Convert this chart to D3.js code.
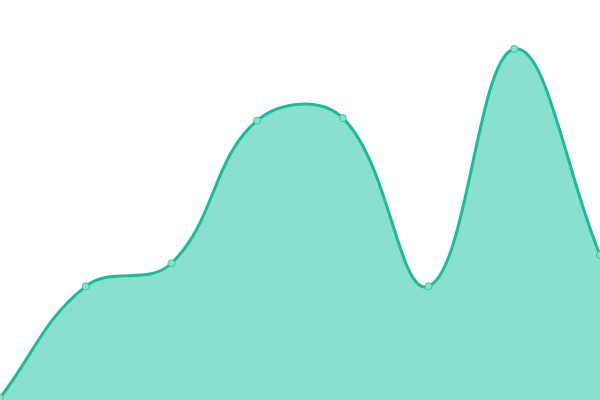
<!DOCTYPE html>
<html>
<head>
<meta charset="utf-8">
<script src="https://cdn.jsdelivr.net/npm/d3@7"></script>
<style>
  html, body { margin: 0; padding: 0; background: #fff; }
  svg { display: block; }
</style>
</head>
<body>
<svg id="chart" width="600" height="400"></svg>
<script>
"use strict";

// === Data ===
let labels = ["A", "B", "C", "D", "E", "F", "G", "H"];
let values = [0, 32, 38.6, 79.5, 80.2, 32, 100, 41];

// === Setup ===
let width = 600, height = 400;
let svg = d3.select("#chart");

let x = d3.scalePoint()
  .domain(labels)
  .range([0, width]);

let y = d3.scaleLinear()
  .domain([0, 100])
  .range([398, 49]);

let points = labels.map((l, i) => ({ label: l, value: values[i] }));

// === Custom curve: spline with distance-weighted control points (tension 0.4) ===
function SplineCurve(context) { this._context = context; }
SplineCurve.prototype = {
  areaStart() { this._line = 0; },
  areaEnd() { this._line = NaN; },
  lineStart() { this._pts = []; },
  point(px, py) { this._pts.push({ x: +px, y: +py }); },
  lineEnd() {
    let p = this._pts, n = p.length, t = 0.4, ctx = this._context;
    if (!n) return;
    // control points for each point
    for (let i = 0; i < n; i++) {
      let prev = p[Math.max(i - 1, 0)], cur = p[i], next = p[Math.min(i + 1, n - 1)];
      let d01 = Math.hypot(cur.x - prev.x, cur.y - prev.y);
      let d12 = Math.hypot(next.x - cur.x, next.y - cur.y);
      let s01 = d01 / (d01 + d12), s12 = d12 / (d01 + d12);
      s01 = isNaN(s01) ? 0 : s01;
      s12 = isNaN(s12) ? 0 : s12;
      let fa = t * s01, fb = t * s12;
      cur.cp1x = cur.x - fa * (next.x - prev.x);
      cur.cp1y = cur.y - fa * (next.y - prev.y);
      cur.cp2x = cur.x + fb * (next.x - prev.x);
      cur.cp2y = cur.y + fb * (next.y - prev.y);
    }
    if (this._line) ctx.lineTo(p[0].x, p[0].y);
    else ctx.moveTo(p[0].x, p[0].y);
    for (let i = 1; i < n; i++) {
      ctx.bezierCurveTo(p[i - 1].cp2x, p[i - 1].cp2y, p[i].cp1x, p[i].cp1y, p[i].x, p[i].y);
    }
    if (this._line || (this._line !== 0 && n === 1)) ctx.closePath();
    this._line = 1 - this._line;
  }
};
let curve = ctx => new SplineCurve(ctx);

// === Area fill ===
let area = d3.area()
  .x(d => x(d.label))
  .y0(height)
  .y1(d => y(d.value))
  .curve(curve);

svg.append("path")
  .datum(points)
  .attr("d", area)
  .attr("fill", "#8ae0cf");

// === Line ===
let line = d3.line()
  .x(d => x(d.label))
  .y(d => y(d.value))
  .curve(curve);

svg.append("path")
  .datum(points)
  .attr("d", line)
  .attr("fill", "none")
  .attr("stroke", "#1abc9c")
  .attr("stroke-width", 3);

// === Points ===
svg.selectAll("circle")
  .data(points)
  .enter()
  .append("circle")
  .attr("cx", d => x(d.label))
  .attr("cy", d => y(d.value))
  .attr("r", 3.5)
  .attr("fill", "#8ae0cf")
  .attr("stroke", "#3cc6a8")
  .attr("stroke-width", 1);
</script>
</body>
</html>
